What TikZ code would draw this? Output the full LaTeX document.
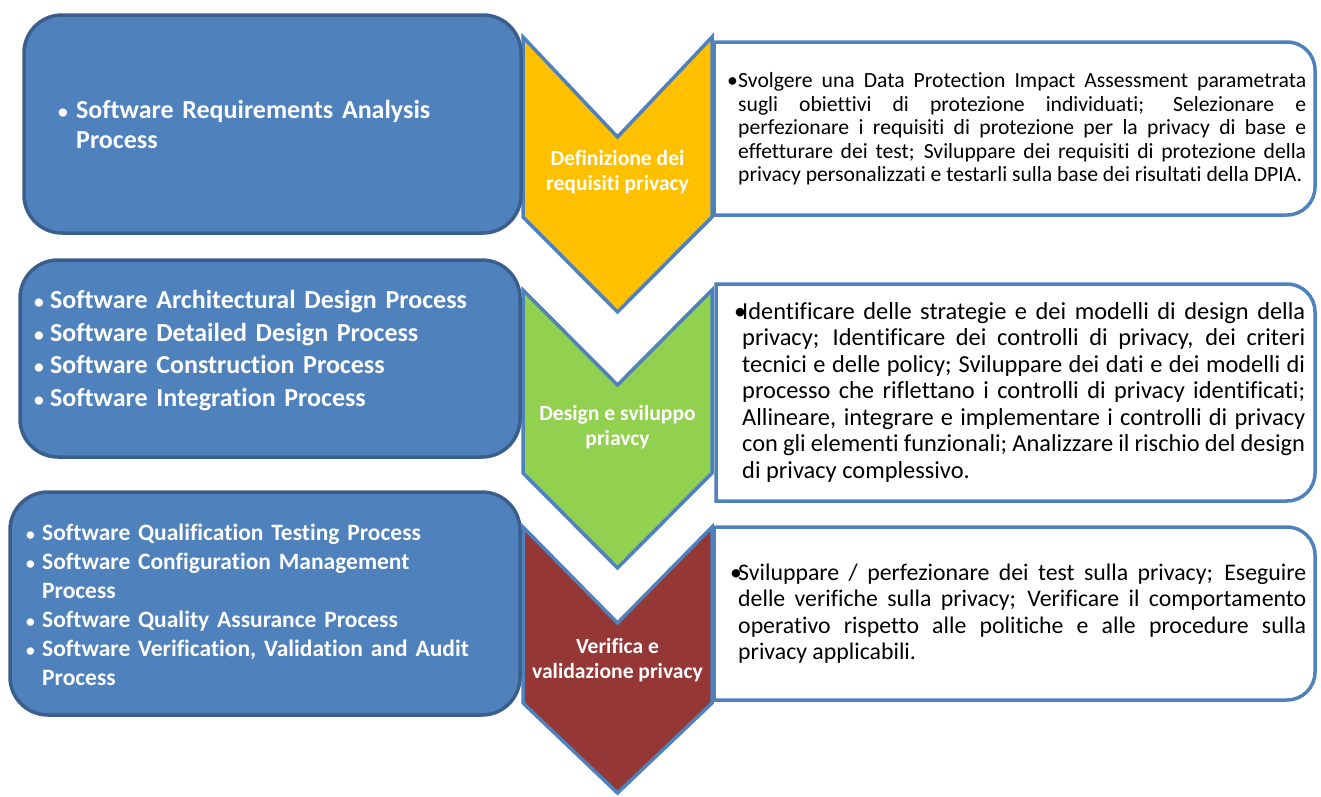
\documentclass[tikz,border=0pt]{standalone}
\usepackage{fontspec}
\setmainfont[Ligatures=NoCommon]{Carlito}
\hbadness=10000
\definecolor{boxfill}{HTML}{4F81BD}
\definecolor{boxedge}{HTML}{3A5F8C}
\definecolor{rimblue}{HTML}{4F81BD}
\definecolor{reqyellow}{HTML}{FFC000}
\definecolor{desgreen}{HTML}{92D050}
\definecolor{verred}{HTML}{953735}
% one bullet of a process list
\newcommand{\procitem}[2]{\par\noindent\hangindent=#1\hangafter=1\makebox[#1][l]{\scalebox{0.75}{\textbullet}}#2\par}
\tikzset{
  procbox/.style={draw=boxedge, fill=boxfill, line width=3.5pt, rounded corners=38pt, inner sep=0pt},
  proclist/.style={anchor=west, inner sep=0pt, text=white, align=left},
  phase/.style={draw=rimblue, line width=3.5pt, line join=miter},
  phaselabel/.style={inner sep=0pt, text=white, align=center, font=\bfseries\fontsize{21.6}{24.5}\selectfont},
  notebox/.style={draw=rimblue, fill=white, line width=3.5pt},
  notetext/.style={anchor=west, inner sep=0pt, align=justify}
}
\begin{document}
\begin{tikzpicture}[x=1pt,y=-1pt]
\useasboundingbox (0,0) rectangle (1321,796);
% frecce delle fasi
\draw [phase, fill=reqyellow] (523,37) -- (617.5,137) -- (712,37) -- (712,217) -- (617.5,312) -- (523,217) -- cycle;
\draw [phase, fill=desgreen] (523,290) -- (617.5,385) -- (712,290) -- (712,473) -- (617.5,568) -- (523,473) -- cycle;
\draw [phase, fill=verred] (523,527) -- (617.5,623) -- (712,527) -- (712,703) -- (617.5,793) -- (523,703) -- cycle;
\node [phaselabel] (reqlabel) at (617.5,172) {Definizione dei\\requisiti privacy};
\node [phaselabel] (deslabel) at (617.5,427) {Design e sviluppo\\priavcy};
\node [phaselabel] (verlabel) at (617.5,660) {Verifica e\\validazione privacy};
% processi software
\node [procbox, minimum width=497pt, minimum height=218pt] (reqbox) at (272.5,124) {};
\node [procbox, minimum width=500pt, minimum height=197pt] (desbox) at (270,358.5) {};
\node [procbox, minimum width=510pt, minimum height=223pt] (verbox) at (265,603.5) {};
\node [proclist, text width=440pt, font=\bfseries\fontsize{26}{30}\selectfont] (reqlist) at (58,119)
  {\procitem{18pt}{Software Requirements Analysis\newline Process}};
\node [proclist, text width=470pt, font=\bfseries\fontsize{26}{32.5}\selectfont] (deslist) at (34,343.5)
  {\procitem{16pt}{Software Architectural Design Process}
   \procitem{16pt}{Software Detailed Design Process}
   \procitem{16pt}{Software Construction Process}
   \procitem{16pt}{Software Integration Process}};
\node [proclist, text width=480pt, font=\bfseries\fontsize{23.5}{29}\selectfont] (verlist) at (26,599)
  {\procitem{16pt}{Software Qualification Testing Process}
   \procitem{16pt}{Software Configuration Management\newline Process}
   \procitem{16pt}{Software Quality Assurance Process}
   \procitem{16pt}{Software Verification, Validation and Audit\newline Process}};
% attivita privacy
\draw [notebox] (714,42) -- (1287,42) arc [start angle=-90, end angle=0, radius=28] -- (1315,187)
  arc [start angle=0, end angle=90, radius=28] -- (714,215) -- cycle;
\draw [notebox] (716,284) -- (1287,284) arc [start angle=-90, end angle=0, radius=28] -- (1315,473)
  arc [start angle=0, end angle=90, radius=28] -- (716,501) -- cycle;
\draw [notebox] (714,527) -- (1287,527) arc [start angle=-90, end angle=0, radius=28] -- (1315,672)
  arc [start angle=0, end angle=90, radius=28] -- (714,700) -- cycle;
\node [notetext, text width=579pt, font=\fontsize{21.65}{23.5}\selectfont] (reqtext) at (727,129)
  {\noindent\hangindent=11pt\hangafter=1\makebox[11pt][l]{\textbullet}Svolgere una Data Protection Impact Assessment parametrata\linebreak
   sugli obiettivi di protezione individuati; Selezionare e\linebreak
   perfezionare i requisiti di protezione per la privacy di base e\linebreak
   effetturare dei test; Sviluppare dei requisiti di protezione della\linebreak
   privacy personalizzati e testarli sulla base dei risultati della DPIA.\par};
\node [notetext, text width=571pt, font=\fontsize{24.4}{26.5}\selectfont] (destext) at (734,392)
  {\noindent\hangindent=8pt\hangafter=1\makebox[8pt][l]{\textbullet}Identificare delle strategie e dei modelli di design della\linebreak
   privacy; Identificare dei controlli di privacy, dei criteri\linebreak
   tecnici e delle policy; Sviluppare dei dati e dei modelli di\linebreak
   processo che riflettano i controlli di privacy identificati;\linebreak
   Allineare, integrare e implementare i controlli di privacy\linebreak
   con gli elementi funzionali; Analizzare il rischio del design\linebreak
   di privacy complessivo.\par};
\node [notetext, text width=576pt, font=\fontsize{23.8}{26.5}\selectfont] (vertext) at (730,613.5)
  {\noindent\hangindent=8pt\hangafter=1\makebox[8pt][l]{\textbullet}Sviluppare / perfezionare dei test sulla privacy; Eseguire\linebreak
   delle verifiche sulla privacy; Verificare il comportamento\linebreak
   operativo rispetto alle politiche e alle procedure sulla\linebreak
   privacy applicabili.\par};
\end{tikzpicture}
\end{document}
